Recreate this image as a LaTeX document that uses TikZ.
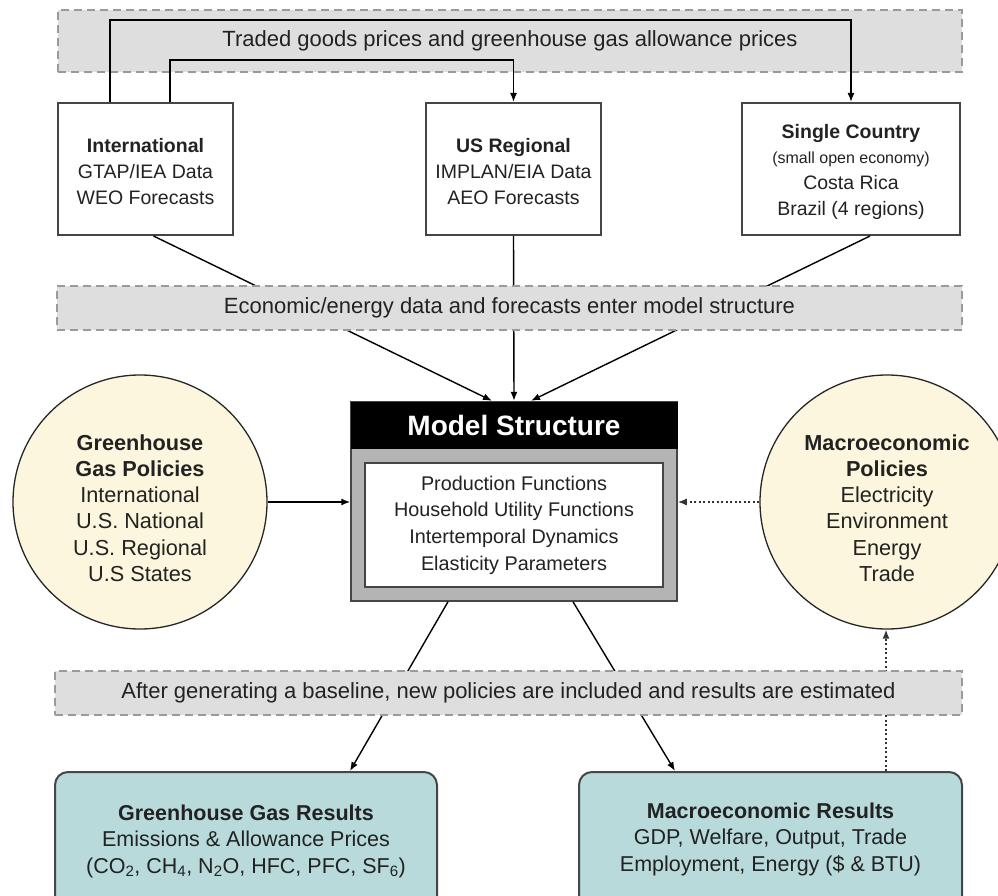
\documentclass[tikz,border=0pt]{standalone}
\usepackage{fontspec}
\setmainfont{Liberation Sans}
\usetikzlibrary{arrows.meta,calc}

\definecolor{bandfill}{HTML}{DEDEDE}
\definecolor{bandedge}{HTML}{9A9A9A}
\definecolor{circfill}{HTML}{FBF6DD}
\definecolor{resfill}{HTML}{B8DADA}
\definecolor{edgegray}{HTML}{454545}
\definecolor{framegray}{HTML}{B4B4B4}
\definecolor{txt}{HTML}{222222}

\newcommand{\fsz}[2]{\fontsize{#1}{#2}\selectfont}

\begin{document}
\begin{tikzpicture}[x=1pt,y=-1pt,
  band/.style={draw=bandedge, fill=bandfill, line width=1.2pt, dash pattern=on 8pt off 5pt, inner sep=0pt, font=\fsz{22}{26}, text=txt},
  srcbox/.style={draw=edgegray, line width=2pt, fill=white, inner sep=0pt},
  srctext/.style={align=center, font=\fsz{19.5}{26}, text=txt, inner sep=0pt},
  policy/.style={circle, draw=black!85, line width=1.3pt, fill=circfill, minimum size=254pt, inner sep=0pt},
  ptext/.style={align=center, font=\fsz{21.7}{26.3}, text=txt, inner sep=0pt},
  result/.style={draw=edgegray, line width=2pt, rounded corners=13pt, fill=resfill, inner sep=0pt},
  rtext/.style={align=center, font=\fsz{21.5}{26.5}, text=txt, inner sep=0pt},
  conn/.style={line width=1.4pt, black},
  arr/.style={conn, -{Latex[length=9pt,width=7pt]}},
  darr/.style={arr, black!80, dash pattern=on 2pt off 2.5pt},
]
\useasboundingbox (0,0) rectangle (998,896);
\clip (0,0) rectangle (998,896);

% top band
\node[band, minimum width=904pt, minimum height=62pt] (b1) at (510,41) {Traded goods prices and greenhouse gas allowance prices};

% source boxes
\node[srcbox, minimum width=175pt, minimum height=132pt] (intl) at (145.5,169) {};
\node[srctext] (intlt) at (145.5,172) {\textbf{International}\\GTAP/IEA Data\\WEO Forecasts};
\node[srcbox, minimum width=175pt, minimum height=132pt] (usr) at (513.5,169) {};
\node[srctext] (usrt) at (513.5,172) {\textbf{US Regional}\\IMPLAN/EIA Data\\AEO Forecasts};
\node[srcbox, minimum width=218pt, minimum height=132pt] (sc) at (851,169) {};
\node[srctext] (sct) at (851,172)
  {\textbf{Single Country}\\[-1pt]{\fsz{16}{26}(small open economy)}\\Costa Rica\\Brazil (4 regions)};

% price feedback lines
\draw[arr] ($(intl.north west)+(53,0)$) -- ++(0,-82) -| (sc.north);
\draw[arr] ($(intl.north west)+(113,0)$) -- ++(0,-42) -| (usr.north);

% model structure
\node[draw=edgegray, line width=1.5pt, fill=framegray, minimum width=326pt, minimum height=199pt, inner sep=0pt] (ms) at (514,501.5) {};
\node[fill=black, draw=black, minimum width=326pt, minimum height=46pt, inner sep=0pt, text=white, font=\bfseries\fsz{28}{30}] (hdr) at (514,425) {Model Structure};
\node[draw=edgegray, line width=1.5pt, fill=white, minimum width=298pt, minimum height=124pt, inner sep=0pt, align=center, font=\fsz{19.8}{26.7}, text=txt] (inner) at (514,525)
  {Production Functions\\Household Utility Functions\\Intertemporal Dynamics\\Elasticity Parameters};

% data lines into model
\draw[arr] ($(intl.south)+(8,0)$) -- ($(hdr.north)+(-22,-1)$);
\draw[arr] (usr.south) -- ($(hdr.north)+(0,-1)$);
\draw[arr] ($(sc.south)+(19,0)$) -- ($(hdr.north)+(17,-1)$);

% middle band
\node[band, minimum width=905pt, minimum height=44pt] (b2) at (509.5,308) {Economic/energy data and forecasts enter model structure};

% policy circles
\node[policy] (ghgp) at (140,502) {};
\node[ptext] (ghgpt) at (140,508) {\textbf{Greenhouse}\\\textbf{Gas Policies}\\International\\U.S. National\\U.S. Regional\\U.S States};
\node[policy] (macp) at (887,502) {};
\node[ptext] (macpt) at (887,508) {\textbf{Macroeconomic}\\\textbf{Policies}\\Electricity\\Environment\\Energy\\Trade};

\draw[arr] (ghgp.east) -- (ghgp.east -| ms.west);
\draw[darr] (macp.west) -- (macp.west -| ms.east);

% result boxes
\node[result, minimum width=382pt, minimum height=140pt] (ghg) at (246,842) {};
\node[rtext] (ghgt) at (246,841) {\textbf{Greenhouse Gas Results}\\Emissions \& Allowance Prices\\(CO\textsubscript{2}, CH\textsubscript{4}, N\textsubscript{2}O, HFC, PFC, SF\textsubscript{6})};
\node[result, minimum width=383pt, minimum height=140pt] (mac) at (770.5,842) {};
\node[rtext] (mact) at (770.5,839) {\textbf{Macroeconomic Results}\\GDP, Welfare, Output, Trade\\Employment, Energy (\$ \& BTU)};

% output lines
\draw[arr] ($(ms.south)+(-66,0)$) -- ($(ghg.north)+(104,0)$);
\draw[arr] ($(ms.south)+(59,0)$) -- ($(mac.north)+(-95.5,0)$);
\draw[darr] ($(mac.north)+(115.5,0)$) -- ($(macp.south)+(-1,0)$);

% bottom band
\node[band, minimum width=907pt, minimum height=44pt] (b3) at (508.5,693) {After generating a baseline, new policies are included and results are estimated};
\end{tikzpicture}
\end{document}
